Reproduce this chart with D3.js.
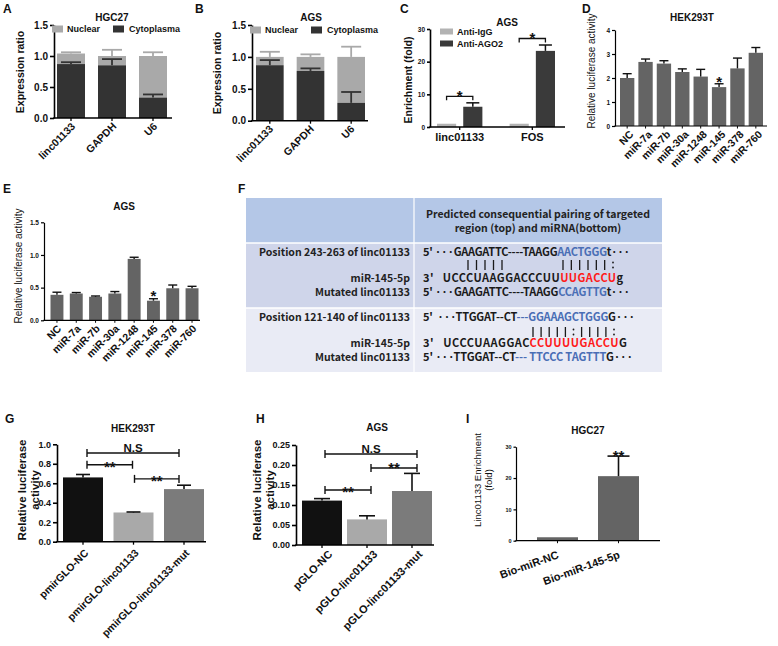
<!DOCTYPE html>
<html><head><meta charset="utf-8">
<script src="https://cdn.jsdelivr.net/npm/d3@7"></script>
<style>body{margin:0;background:#fff}svg{display:block}</style>
</head><body><svg id="chart" width="778" height="646"></svg>
<script>
// ---------------- DATA ----------------
const fracCategories = ["linc01133", "GAPDH", "U6"];
const fracTicks = [0, 0.5, 1.0, 1.5];
const hgc27Cyto = [0.87, 0.85, 0.33];
const hgc27CytoErr = [0.03, 0.10, 0.05];
const hgc27Nuclear = [0.17, 0.15, 0.67];
const hgc27NuclearErr = [0.02, 0.10, 0.06];
const agsCyto = [0.87, 0.78, 0.28];
const agsCytoErr = [0.08, 0.04, 0.17];
const agsNuclear = [0.13, 0.22, 0.72];
const agsNuclearErr = [0.08, 0.04, 0.16];
const fracSeries = ["Nuclear", "Cytoplasma"];

const ripCategories = ["linc01133", "FOS"];
const ripSeries = ["Anti-IgG", "Anti-AGO2"];
const ripTicks = [0, 10, 20, 30];
const antiIgG = [1.0, 1.0];
const antiAGO2 = [6.2, 23.3];
const antiAGO2Err = [1.2, 1.8];

const mirCategories = ["NC", "miR-7a", "miR-7b", "miR-30a", "miR-1248", "miR-145", "miR-378", "miR-760"];
const hekTicks = [0, 1, 2, 3, 4];
const hekLuc = [2.0, 2.67, 2.6, 2.25, 2.06, 1.62, 2.4, 3.05];
const hekLucErr = [0.18, 0.12, 0.12, 0.13, 0.30, 0.14, 0.43, 0.22];
const agsTicks = [0, 0.5, 1.0, 1.5];
const agsLuc = [0.39, 0.41, 0.36, 0.41, 0.94, 0.30, 0.49, 0.49];
const agsLucErr = [0.04, 0.015, 0.012, 0.03, 0.025, 0.03, 0.05, 0.03];

const hekReporter = ["pmirGLO-NC", "pmirGLO-linc01133", "pmirGLO-linc01133-mut"];
const hekReporterTicks = [0, 0.2, 0.4, 0.6, 0.8, 1.0];
const hekReporterVal = [0.66, 0.30, 0.54];
const hekReporterErr = [0.03, 0.005, 0.04];
const agsReporter = ["pGLO-NC", "pGLO-linc01133", "pGLO-linc01133-mut"];
const agsReporterTicks = [0, 0.05, 0.10, 0.15, 0.20, 0.25];
const agsReporterVal = [0.111, 0.064, 0.135];
const agsReporterErr = [0.005, 0.009, 0.044];

const pulldownCategories = ["Bio-miR-NC", "Bio-miR-145-5p"];
const pulldownTicks = [0, 10, 20, 30];
const pulldownVal = [1.1, 20.6];
const pulldownErr = [0, 6.4];

const tableHeader = ["Predicted consequential pairing of targeted", "region (top) and miRNA(bottom)"];
const siteLabels = [
  ["Position 243-263 of linc01133", "miR-145-5p", "Mutated linc01133"],
  ["Position 121-140 of linc01133", "miR-145-5p", "Mutated linc01133"]
];
const siteSeqs = [
  [
    [["5' ···GAAGATTC----TAAGG", "k"], ["AACTGGG", "b"], ["t···", "k"]],
    [["3'   UCCCUAAGGACCCUU", "k"], ["UUGACCU", "r"], ["g", "k"]],
    [["5' ···GAAGATTC----TAAGG", "k"], ["CCAGTTG", "b"], ["t···", "k"]]
  ],
  [
    [["5'  ···TTGGAT--CT", "k"], ["---GGAAAGCTGGG", "b"], ["G···", "k"]],
    [["3'   UCCCUAAGGAC", "k"], ["CCUUUUGACCU", "r"], ["G", "k"]],
    [["5' ···TTGGAT--CT", "k"], ["--- TTCCC TAGTTT", "b"], ["G···", "k"]]
  ]
];
const sitePairs = [["|||||", "||||||:"], ["|||||:||||:"]];

// ---------------- DRAWING ----------------
const svg = d3.select("#chart");
const FONT = "'Liberation Sans', Arial, Helvetica, sans-serif";
const JP = "'Noto Sans CJK JP', 'Noto Sans', sans-serif";
const INK = "#111";

function txt(g, x, y, s, o = {}) {
  const t = g.append("text").attr("x", x).attr("y", y).text(s)
    .attr("font-family", o.ff || FONT).attr("font-size", o.fs || 10)
    .attr("font-weight", o.fw || "bold").attr("fill", o.fill || INK)
    .attr("text-anchor", o.anchor || "start");
  if (o.rot != null) t.attr("transform", `rotate(${o.rot},${x},${y})`);
  if (o.dy) t.attr("dy", o.dy);
  return t;
}

function panel(c) {
  const g = svg.append("g");
  const gb = g.append("g");
  const ga = g.append("g");
  const x = d3.scaleBand().domain(c.cats).range(c.xr).paddingInner(c.pi).paddingOuter(0);
  const y = d3.scaleLinear().domain([0, c.ymax]).range([c.base, c.top]);
  const gy = ga.append("g").attr("transform", `translate(${c.ax},0)`)
    .call(d3.axisLeft(y).tickValues(c.ticks).tickFormat(c.fmt).tickSize(c.tk).tickSizeOuter(0).tickPadding(c.tp || 2));
  gy.select(".domain").attr("stroke", "#000").attr("stroke-width", c.sw);
  gy.selectAll(".tick line").attr("stroke", "#000").attr("stroke-width", c.sw);
  gy.selectAll(".tick text").attr("font-size", c.tfs).attr("font-weight", "bold")
    .attr("font-family", FONT).attr("fill", INK);
  ga.append("line").attr("x1", c.ax - c.sw / 2).attr("x2", c.xEnd).attr("y1", c.base).attr("y2", c.base)
    .attr("stroke", "#000").attr("stroke-width", c.sw);
  ga.selectAll(null).data(c.cats).join("line")
    .attr("x1", d => x(d) + x.bandwidth() / 2).attr("x2", d => x(d) + x.bandwidth() / 2)
    .attr("y1", c.base).attr("y2", c.base + c.xtk).attr("stroke", "#000").attr("stroke-width", c.sw * 0.8);
  return { g, gb, ga, x, y, base: c.base, c };
}

function errBar(p, rows, color, cap, sw = 1.5) {
  const g = p.gb;
  g.selectAll(null).data(rows).join("line")
    .attr("x1", r => r.cx).attr("x2", r => r.cx)
    .attr("y1", r => p.y(r.v)).attr("y2", r => p.y(r.v + r.e))
    .attr("stroke", color).attr("stroke-width", sw);
  g.selectAll(null).data(rows).join("line")
    .attr("x1", r => r.cx - cap / 2).attr("x2", r => r.cx + cap / 2)
    .attr("y1", r => p.y(r.v + r.e)).attr("y2", r => p.y(r.v + r.e))
    .attr("stroke", color).attr("stroke-width", sw);
}

function simpleBars(p, vals, errs, colors, cap, sw) {
  const cats = p.x.domain(), bw = p.x.bandwidth();
  const rows = cats.map((c, i) => ({ c, v: vals[i], e: errs[i], cx: p.x(c) + bw / 2, col: colors[i % colors.length] }));
  p.gb.selectAll(null).data(rows).join("rect")
    .attr("x", r => p.x(r.c)).attr("width", bw)
    .attr("y", r => p.y(r.v)).attr("height", r => p.base - p.y(r.v)).attr("fill", r => r.col);
  errBar(p, rows.filter(r => r.e > 0), INK, cap, sw);
  return rows;
}

function xLabels(p, o) {
  p.ga.selectAll(null).data(p.x.domain()).join("text")
    .attr("transform", d => `translate(${p.x(d) + p.x.bandwidth() / 2 + o.dx},${p.base + o.dy}) rotate(${o.rot})`)
    .attr("text-anchor", "end").attr("font-size", o.fs).attr("font-weight", "bold")
    .attr("font-family", FONT).attr("fill", INK).text(d => d);
}

function yLabel(lines, x0, cy, fs, fw, gap) {
  lines.forEach((s, i) => {
    const x = x0 + i * gap;
    svg.append("text").attr("transform", `translate(${x},${cy}) rotate(-90)`)
      .attr("text-anchor", "middle").attr("dy", "0.35em")
      .attr("font-family", FONT).attr("font-size", fs).attr("font-weight", fw).attr("fill", INK).text(s);
  });
}

// ---- stacked fraction panels (A, B)
const NUC = "#a9a9a9", CYTO = "#333333";
function stacked(p, cyto, cytoErr, nuc, nucErr, cap) {
  const bw = p.x.bandwidth();
  const rows = p.x.domain().map((c, i) => ({ c, cy: cyto[i], ce: cytoErr[i], n: nuc[i], ne: nucErr[i], cx: p.x(c) + bw / 2 }));
  errBar(p, rows.map(r => ({ cx: r.cx, v: r.cy + r.n, e: r.ne })), NUC, cap, 1.8);
  p.gb.selectAll(null).data(rows).join("rect").attr("x", r => p.x(r.c)).attr("width", bw)
    .attr("y", r => p.y(r.cy + r.n)).attr("height", r => p.y(r.cy) - p.y(r.cy + r.n)).attr("fill", NUC);
  p.gb.selectAll(null).data(rows).join("rect").attr("x", r => p.x(r.c)).attr("width", bw)
    .attr("y", r => p.y(r.cy)).attr("height", r => p.base - p.y(r.cy)).attr("fill", CYTO);
  errBar(p, rows.map(r => ({ cx: r.cx, v: r.cy, e: r.ce })), CYTO, cap, 1.8);
}
function fracLegend(x0, y0) {
  const g = svg.append("g");
  const pos = [[x0, x0 + 15], [x0 + 61, x0 + 77]];
  fracSeries.forEach((s, i) => {
    g.append("rect").attr("x", pos[i][0]).attr("y", y0 - 3.5).attr("width", 11).attr("height", 7).attr("fill", i === 0 ? NUC : CYTO);
    txt(g, pos[i][1], y0 + 3.3, s, { fs: 9 });
  });
}

// Panel letters
[["A", 3, 13], ["B", 195, 13], ["C", 400, 13], ["D", 582, 13], ["E", 3, 193], ["F", 238, 193], ["G", 5, 423], ["H", 256, 423], ["I", 466, 423]]
  .forEach(([s, x, y]) => txt(svg, x, y, s, { fs: 12 }));

// A
const pA = panel({ cats: fracCategories, xr: [57, 167], pi: 0.317, ymax: 1.5, base: 118, top: 25, ticks: fracTicks, fmt: d3.format(".1f"), ax: 54, xEnd: 172, sw: 1.6, tk: 4, tfs: 10, xtk: 3 });
stacked(pA, hgc27Cyto, hgc27CytoErr, hgc27Nuclear, hgc27NuclearErr, 20);
xLabels(pA, { dx: 5, dy: 9, rot: -45, fs: 10.5 });
txt(svg, 112, 21, "HGC27", { fs: 10, anchor: "middle" });
fracLegend(52, 29);
yLabel(["Expression ratio"], 20, 72, 10.5, "bold", 0);

// B
const pB = panel({ cats: fracCategories, xr: [256, 365], pi: 0.32, ymax: 1.5, base: 120.7, top: 25, ticks: fracTicks, fmt: d3.format(".1f"), ax: 252, xEnd: 368, sw: 1.6, tk: 4, tfs: 10, xtk: 3 });
stacked(pB, agsCyto, agsCytoErr, agsNuclear, agsNuclearErr, 20);
xLabels(pB, { dx: 4, dy: 9, rot: -45, fs: 10.5 });
txt(svg, 311, 21, "AGS", { fs: 10, anchor: "middle" });
fracLegend(250, 30);
yLabel(["Expression ratio"], 217, 73, 10.5, "bold", 0);

// C
const pC = panel({ cats: ripCategories, xr: [437, 555], pi: 0.375, ymax: 30, base: 127, top: 29, ticks: ripTicks, fmt: d3.format("d"), ax: 430, xEnd: 565, sw: 1.6, tk: 3, tfs: 6.5, xtk: 3 });
{
  const inner = d3.scaleBand().domain(ripSeries).range([0, pC.x.bandwidth()]).paddingInner(0.27);
  const ripColors = ["#b3b3b3", "#3a3a3a"];
  const rows = [];
  ripCategories.forEach((c, i) => {
    rows.push({ c, s: ripSeries[0], v: antiIgG[i], e: 0 });
    rows.push({ c, s: ripSeries[1], v: antiAGO2[i], e: antiAGO2Err[i] });
  });
  rows.forEach(r => { r.x = pC.x(r.c) + inner(r.s); r.cx = r.x + inner.bandwidth() / 2; });
  pC.gb.selectAll(null).data(rows).join("rect").attr("x", r => r.x).attr("width", inner.bandwidth())
    .attr("y", r => pC.y(r.v)).attr("height", r => pC.base - pC.y(r.v))
    .attr("fill", r => ripColors[ripSeries.indexOf(r.s)]);
  errBar(pC, rows.filter(r => r.e > 0), "#111", 13, 1.5);
  ripCategories.forEach((c, i) => {
    const a = rows[i * 2].cx, b = rows[i * 2 + 1].cx;
    const yl = pC.y(antiAGO2[i] + antiAGO2Err[i]) - 6.5;
    pC.ga.append("path").attr("d", `M${a},${yl + 4}V${yl}H${b}V${yl + 4}`).attr("fill", "none").attr("stroke", "#111").attr("stroke-width", 1.3);
    txt(pC.ga, (a + b) / 2, yl + 4.5, "*", { fs: 15, anchor: "middle" });
  });
  pC.ga.selectAll(null).data(ripCategories).join("text")
    .attr("x", d => pC.x(d) + pC.x.bandwidth() / 2).attr("y", 141).attr("text-anchor", "middle")
    .attr("font-family", FONT).attr("font-size", 11).attr("font-weight", "bold").attr("fill", INK).text(d => d);
  const lg = svg.append("g");
  ripSeries.forEach((s, i) => {
    lg.append("rect").attr("x", 440).attr("y", 28.5 + i * 12).attr("width", 13).attr("height", 6).attr("fill", ripColors[i]);
    txt(lg, 457, 35 + i * 12, s, { fs: 9 });
  });
}
txt(svg, 507, 26, "AGS", { fs: 10, anchor: "middle" });
yLabel(["Enrichment (fold)"], 408, 80, 10.5, "bold", 0);

// D
const GREY = "#646464";
const pD = panel({ cats: mirCategories, xr: [620, 763], pi: 0.22, ymax: 4, base: 126, top: 30, ticks: hekTicks, fmt: d3.format("d"), ax: 615, xEnd: 767, sw: 1.2, tk: 3, tfs: 6.5, xtk: 2.5 });
simpleBars(pD, hekLuc, hekLucErr, [GREY], 9, 1.4);
xLabels(pD, { dx: 7, dy: 9, rot: -45, fs: 10.5 });
{
  const i = mirCategories.indexOf("miR-145");
  txt(pD.ga, pD.x(mirCategories[i]) + pD.x.bandwidth() / 2, pD.y(hekLuc[i] + hekLucErr[i]) + 3, "*", { fs: 15, anchor: "middle" });
}
txt(svg, 692, 21, "HEK293T", { fs: 10, anchor: "middle" });
yLabel(["Relative luciferase activity"], 591, 71, 10, "normal", 0);

// E
const pE = panel({ cats: mirCategories, xr: [50.5, 198.5], pi: 0.33, ymax: 1.5, base: 320.3, top: 222.3, ticks: agsTicks, fmt: d3.format(".1f"), ax: 44, xEnd: 200, sw: 1.2, tk: 3, tfs: 6.5, xtk: 2.5 });
simpleBars(pE, agsLuc, agsLucErr, [GREY], 9, 1.4);
xLabels(pE, { dx: 5, dy: 9, rot: -45, fs: 10.5 });
{
  const i = mirCategories.indexOf("miR-145");
  txt(pE.ga, pE.x(mirCategories[i]) + pE.x.bandwidth() / 2, pE.y(agsLuc[i] + agsLucErr[i]) + 2, "*", { fs: 15, anchor: "middle" });
}
txt(svg, 124, 210, "AGS", { fs: 10, anchor: "middle" });
yLabel(["Relative luciferase activity"], 18, 266, 10, "normal", 0);

// F table
{
  const g = svg.append("g");
  const L = 246, R = 662, D = 414;
  const rowsY = [198, 243, 308, 372];
  const fills = ["#b4c7e7", "#cfd5ea", "#e9ebf5"];
  fills.forEach((f, i) => g.append("rect").attr("x", L).attr("y", rowsY[i]).attr("width", R - L).attr("height", rowsY[i + 1] - rowsY[i]).attr("fill", f));
  [243, 308].forEach(y => g.append("line").attr("x1", L).attr("x2", R).attr("y1", y).attr("y2", y).attr("stroke", "#fff").attr("stroke-width", 1.5));
  g.append("line").attr("x1", D).attr("x2", D).attr("y1", 198).attr("y2", 372).attr("stroke", "#fff").attr("stroke-width", 1.2);
  tableHeader.forEach((s, i) => txt(g, 538, 218 + i * 14, s, { ff: JP, fs: 10.5, anchor: "middle", fill: "#222" }));
  const COL = { k: "#1a1a1a", b: "#4a6eb5", r: "#ff1a1a" };
  const lineY = [[256, 282, 296], [321, 347, 361]];
  const lineSpan = [[[423, 630], [423, 623], [423, 630]], [[423, 635], [423, 627], [423, 633]]];
  siteLabels.forEach((labs, r) => {
    labs.forEach((s, j) => txt(g, 410, lineY[r][j], s, { ff: JP, fs: 10.5, anchor: "end", fill: "#222", fw: 600 }));
    siteSeqs[r].forEach((segs, j) => {
      const t = g.append("text").attr("x", lineSpan[r][j][0]).attr("y", lineY[r][j])
        .attr("font-family", JP).attr("font-size", 11).attr("font-weight", 600)
        .attr("textLength", lineSpan[r][j][1] - lineSpan[r][j][0]).attr("lengthAdjust", "spacing")
        .style("white-space", "pre");
      segs.forEach(([s, c]) => t.append("tspan").attr("fill", COL[c]).text(s));
    });
  });
  // base-pairing symbols placed with a point scale across each span
  const pairSpans = [[[468, 502], [563, 613]], [[533, 614]]];
  const pairY = [265, 332];
  sitePairs.forEach((grp, r) => grp.forEach((s, k) => {
    const syms = s.split("").map((ch, i) => ({ ch, i }));
    const sx = d3.scalePoint().domain(syms.map(d => d.i)).range(pairSpans[r][k]);
    const yc = pairY[r];
    syms.forEach(d => {
      if (d.ch === "|") {
        g.append("line").attr("x1", sx(d.i)).attr("x2", sx(d.i)).attr("y1", yc - 5).attr("y2", yc + 5)
          .attr("stroke", "#1a1a1a").attr("stroke-width", 1.3);
      } else {
        [-2.5, 2.5].forEach(o => g.append("circle").attr("cx", sx(d.i)).attr("cy", yc + o).attr("r", 0.9).attr("fill", "#1a1a1a"));
      }
    });
  }));
}

// significance bracket helper (G, H)
function sigBracket(p, a, b, yv, label, o) {
  const cxa = p.x(p.x.domain()[a]) + p.x.bandwidth() / 2 + o.la;
  const cxb = p.x(p.x.domain()[b]) + p.x.bandwidth() / 2 + o.rb;
  const yl = p.y(yv);
  p.ga.append("line").attr("x1", cxa).attr("x2", cxb).attr("y1", yl).attr("y2", yl).attr("stroke", "#111").attr("stroke-width", 1.4);
  [cxa, cxb].forEach(xx => p.ga.append("line").attr("x1", xx).attr("x2", xx).attr("y1", yl - 4).attr("y2", yl + 4).attr("stroke", "#111").attr("stroke-width", 1.4));
  if (label === "N.S") txt(p.ga, (cxa + cxb) / 2, yl - 1, label, { fs: 11.5, anchor: "middle" });
  else txt(p.ga, (cxa + cxb) / 2, yl + o.sdy, label, { fs: 15, anchor: "middle" });
}

// G
const repColors = ["#111111", "#a9a9a9", "#7b7b7b"];
const pG = panel({ cats: hekReporter, xr: [63, 204], pi: 0.208, ymax: 1.0, base: 541.7, top: 444.3, ticks: hekReporterTicks, fmt: d3.format(".1f"), ax: 57, xEnd: 206, sw: 1.6, tk: 4, tfs: 9, xtk: 3 });
simpleBars(pG, hekReporterVal, hekReporterErr, repColors, 14, 1.6);
sigBracket(pG, 0, 2, 0.91, "N.S", { la: 4, rb: -5 });
sigBracket(pG, 0, 1, 0.79, "**", { la: 4, rb: -1, sdy: 7 });
sigBracket(pG, 1, 2, 0.645, "**", { la: 1, rb: -5, sdy: 7 });
xLabels(pG, { dx: 6, dy: 12, rot: -45, fs: 10.5 });
txt(svg, 133, 432, "HEK293T", { fs: 10, anchor: "middle" });
yLabel(["Relative luciferase", "activity"], 22, 490, 11.5, "bold", 13);

// H
const pH = panel({ cats: agsReporter, xr: [302, 432], pi: 0.111, ymax: 0.25, base: 545, top: 445, ticks: agsReporterTicks, fmt: d3.format(".2f"), ax: 296, xEnd: 434, sw: 1.6, tk: 4, tfs: 9, xtk: 3 });
simpleBars(pH, agsReporterVal, agsReporterErr, repColors, 16, 1.6);
sigBracket(pH, 0, 2, 0.2275, "N.S", { la: 3, rb: 5 });
sigBracket(pH, 1, 2, 0.1925, "**", { la: 4, rb: 5, sdy: 5 });
sigBracket(pH, 0, 1, 0.1375, "**", { la: 3, rb: 4, sdy: 7 });
xLabels(pH, { dx: 11, dy: 10, rot: -45, fs: 11 });
txt(svg, 377, 431, "AGS", { fs: 10, anchor: "middle" });
yLabel(["Relative luciferase", "activity"], 257, 490, 11.5, "bold", 13);

// I
const pI = panel({ cats: pulldownCategories, xr: [537, 639], pi: 0.328, ymax: 30, base: 540.7, top: 446.7, ticks: pulldownTicks, fmt: d3.format("d"), ax: 516, xEnd: 660, sw: 1.2, tk: 2.5, tfs: 5.5, xtk: 2.5 });
simpleBars(pI, pulldownVal, pulldownErr, [GREY], 22, 1.6);
txt(pI.ga, pI.x(pulldownCategories[1]) + pI.x.bandwidth() / 2, pI.y(pulldownVal[1] + pulldownErr[1]) + 4.5, "**", { fs: 15, anchor: "middle" });
xLabels(pI, { dx: 2, dy: 17, rot: -20, fs: 11 });
txt(svg, 588, 434, "HGC27", { fs: 10, anchor: "middle" });
yLabel(["Linc01133 Enrichment", "(fold)"], 478, 480, 9.5, "normal", 11);
</script></body></html>
